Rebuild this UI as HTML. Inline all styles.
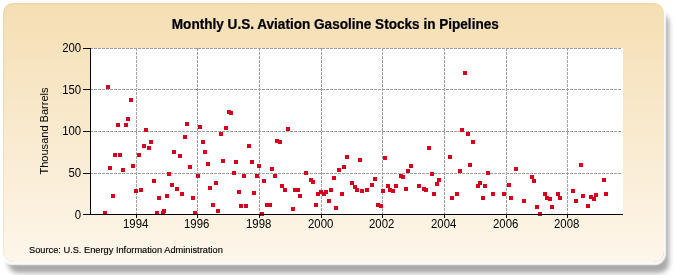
<!DOCTYPE html>
<html><head><meta charset="utf-8">
<style>
html,body{margin:0;padding:0;background:#fff;}
body{width:675px;height:275px;overflow:hidden;position:relative;}
.shadow{position:absolute;left:8px;top:13px;width:661px;height:260px;border-radius:10px;background:rgba(0,0,0,0.34);filter:blur(2.8px);}
.halo{position:absolute;left:3px;top:3px;width:661px;height:259px;border-radius:10px;box-shadow:0.5px 1px 1.5px 1.5px rgba(255,255,255,0.95);}
.panel{position:absolute;left:3px;top:3px;width:661px;height:259px;border-radius:10px;
background:linear-gradient(to bottom,#f5deb3 0%,#fdf6ea 100%);box-shadow:inset 1px 1px 1.5px rgba(110,120,60,0.09);filter:blur(0.4px);}
svg{position:absolute;left:0;top:0;will-change:transform;}
text{font-family:"Liberation Sans",sans-serif;fill:#000;}
</style></head><body>
<div class="shadow"></div><div class="halo"></div><div class="panel"></div>
<svg width="675" height="275" viewBox="0 0 675 275">
<rect x="91" y="48" width="532" height="166" fill="#ffffff"/>
<g stroke="#a0a0a0" stroke-width="1" stroke-dasharray="3,1" shape-rendering="crispEdges">
<line x1="90" y1="48.5" x2="622" y2="48.5"/>
<line x1="90" y1="89.5" x2="622" y2="89.5"/>
<line x1="90" y1="131.5" x2="622" y2="131.5"/>
<line x1="90" y1="173.5" x2="622" y2="173.5"/>
<line x1="136.5" y1="48" x2="136.5" y2="214"/>
<line x1="197.5" y1="48" x2="197.5" y2="214"/>
<line x1="259.5" y1="48" x2="259.5" y2="214"/>
<line x1="321.5" y1="48" x2="321.5" y2="214"/>
<line x1="382.5" y1="48" x2="382.5" y2="214"/>
<line x1="444.5" y1="48" x2="444.5" y2="214"/>
<line x1="506.5" y1="48" x2="506.5" y2="214"/>
<line x1="567.5" y1="48" x2="567.5" y2="214"/>
</g>
<g fill="#d4021f" shape-rendering="crispEdges">
<rect x="103" y="211" width="4" height="4"/>
<rect x="106" y="85" width="4" height="4"/>
<rect x="108" y="166" width="4" height="4"/>
<rect x="111" y="194" width="4" height="4"/>
<rect x="113" y="153" width="4" height="4"/>
<rect x="116" y="123" width="4" height="4"/>
<rect x="118" y="153" width="4" height="4"/>
<rect x="121" y="168" width="4" height="4"/>
<rect x="124" y="123" width="4" height="4"/>
<rect x="126" y="117" width="4" height="4"/>
<rect x="129" y="98" width="4" height="4"/>
<rect x="131" y="164" width="4" height="4"/>
<rect x="134" y="189" width="4" height="4"/>
<rect x="137" y="153" width="4" height="4"/>
<rect x="139" y="188" width="4" height="4"/>
<rect x="142" y="144" width="4" height="4"/>
<rect x="144" y="128" width="4" height="4"/>
<rect x="147" y="146" width="4" height="4"/>
<rect x="149" y="140" width="4" height="4"/>
<rect x="152" y="179" width="4" height="4"/>
<rect x="155" y="211" width="4" height="4"/>
<rect x="157" y="196" width="4" height="4"/>
<rect x="161" y="211" width="4" height="4"/>
<rect x="162" y="209" width="4" height="4"/>
<rect x="165" y="194" width="4" height="4"/>
<rect x="167" y="172" width="4" height="4"/>
<rect x="170" y="183" width="4" height="4"/>
<rect x="172" y="150" width="4" height="4"/>
<rect x="175" y="187" width="4" height="4"/>
<rect x="178" y="154" width="4" height="4"/>
<rect x="180" y="192" width="4" height="4"/>
<rect x="183" y="135" width="4" height="4"/>
<rect x="185" y="122" width="4" height="4"/>
<rect x="188" y="165" width="4" height="4"/>
<rect x="191" y="196" width="4" height="4"/>
<rect x="193" y="211" width="4" height="4"/>
<rect x="196" y="174" width="4" height="4"/>
<rect x="198" y="125" width="4" height="4"/>
<rect x="201" y="140" width="4" height="4"/>
<rect x="203" y="150" width="4" height="4"/>
<rect x="206" y="162" width="4" height="4"/>
<rect x="208" y="186" width="4" height="4"/>
<rect x="211" y="203" width="4" height="4"/>
<rect x="214" y="181" width="4" height="4"/>
<rect x="216" y="209" width="4" height="4"/>
<rect x="219" y="132" width="4" height="4"/>
<rect x="221" y="159" width="4" height="4"/>
<rect x="224" y="126" width="4" height="4"/>
<rect x="227" y="110" width="4" height="4"/>
<rect x="229" y="111" width="4" height="4"/>
<rect x="232" y="171" width="4" height="4"/>
<rect x="234" y="160" width="4" height="4"/>
<rect x="237" y="190" width="4" height="4"/>
<rect x="239" y="204" width="4" height="4"/>
<rect x="242" y="174" width="4" height="4"/>
<rect x="244" y="204" width="4" height="4"/>
<rect x="247" y="144" width="4" height="4"/>
<rect x="250" y="160" width="4" height="4"/>
<rect x="252" y="191" width="4" height="4"/>
<rect x="255" y="174" width="4" height="4"/>
<rect x="257" y="164" width="4" height="4"/>
<rect x="260" y="212" width="4" height="4"/>
<rect x="262" y="179" width="4" height="4"/>
<rect x="265" y="203" width="4" height="4"/>
<rect x="268" y="203" width="4" height="4"/>
<rect x="270" y="167" width="4" height="4"/>
<rect x="273" y="174" width="4" height="4"/>
<rect x="275" y="139" width="4" height="4"/>
<rect x="278" y="140" width="4" height="4"/>
<rect x="280" y="184" width="4" height="4"/>
<rect x="283" y="188" width="4" height="4"/>
<rect x="286" y="127" width="4" height="4"/>
<rect x="291" y="207" width="4" height="4"/>
<rect x="293" y="188" width="4" height="4"/>
<rect x="296" y="188" width="4" height="4"/>
<rect x="298" y="194" width="4" height="4"/>
<rect x="304" y="171" width="4" height="4"/>
<rect x="309" y="178" width="4" height="4"/>
<rect x="311" y="180" width="4" height="4"/>
<rect x="314" y="203" width="4" height="4"/>
<rect x="316" y="192" width="4" height="4"/>
<rect x="319" y="190" width="4" height="4"/>
<rect x="322" y="192" width="4" height="4"/>
<rect x="324" y="190" width="4" height="4"/>
<rect x="327" y="199" width="4" height="4"/>
<rect x="329" y="188" width="4" height="4"/>
<rect x="332" y="176" width="4" height="4"/>
<rect x="334" y="206" width="4" height="4"/>
<rect x="337" y="168" width="4" height="4"/>
<rect x="340" y="192" width="4" height="4"/>
<rect x="342" y="165" width="4" height="4"/>
<rect x="345" y="155" width="4" height="4"/>
<rect x="350" y="181" width="4" height="4"/>
<rect x="353" y="185" width="4" height="4"/>
<rect x="355" y="188" width="4" height="4"/>
<rect x="358" y="158" width="4" height="4"/>
<rect x="360" y="189" width="4" height="4"/>
<rect x="365" y="188" width="4" height="4"/>
<rect x="370" y="183" width="4" height="4"/>
<rect x="373" y="177" width="4" height="4"/>
<rect x="376" y="203" width="4" height="4"/>
<rect x="379" y="204" width="4" height="4"/>
<rect x="381" y="189" width="4" height="4"/>
<rect x="383" y="156" width="4" height="4"/>
<rect x="386" y="184" width="4" height="4"/>
<rect x="388" y="188" width="4" height="4"/>
<rect x="391" y="189" width="4" height="4"/>
<rect x="394" y="184" width="4" height="4"/>
<rect x="399" y="174" width="4" height="4"/>
<rect x="401" y="175" width="4" height="4"/>
<rect x="404" y="187" width="4" height="4"/>
<rect x="406" y="169" width="4" height="4"/>
<rect x="409" y="164" width="4" height="4"/>
<rect x="417" y="184" width="4" height="4"/>
<rect x="422" y="187" width="4" height="4"/>
<rect x="424" y="188" width="4" height="4"/>
<rect x="427" y="146" width="4" height="4"/>
<rect x="430" y="172" width="4" height="4"/>
<rect x="432" y="192" width="4" height="4"/>
<rect x="435" y="182" width="4" height="4"/>
<rect x="437" y="178" width="4" height="4"/>
<rect x="448" y="155" width="4" height="4"/>
<rect x="450" y="196" width="4" height="4"/>
<rect x="455" y="192" width="4" height="4"/>
<rect x="458" y="169" width="4" height="4"/>
<rect x="460" y="128" width="4" height="4"/>
<rect x="463" y="71" width="4" height="4"/>
<rect x="466" y="132" width="4" height="4"/>
<rect x="468" y="163" width="4" height="4"/>
<rect x="471" y="140" width="4" height="4"/>
<rect x="476" y="184" width="4" height="4"/>
<rect x="478" y="181" width="4" height="4"/>
<rect x="481" y="196" width="4" height="4"/>
<rect x="483" y="184" width="4" height="4"/>
<rect x="486" y="171" width="4" height="4"/>
<rect x="491" y="192" width="4" height="4"/>
<rect x="502" y="192" width="4" height="4"/>
<rect x="507" y="183" width="4" height="4"/>
<rect x="509" y="196" width="4" height="4"/>
<rect x="514" y="167" width="4" height="4"/>
<rect x="522" y="199" width="4" height="4"/>
<rect x="530" y="175" width="4" height="4"/>
<rect x="532" y="179" width="4" height="4"/>
<rect x="535" y="205" width="4" height="4"/>
<rect x="538" y="212" width="4" height="4"/>
<rect x="543" y="192" width="4" height="4"/>
<rect x="545" y="196" width="4" height="4"/>
<rect x="548" y="197" width="4" height="4"/>
<rect x="550" y="205" width="4" height="4"/>
<rect x="556" y="192" width="4" height="4"/>
<rect x="558" y="196" width="4" height="4"/>
<rect x="571" y="189" width="4" height="4"/>
<rect x="574" y="199" width="4" height="4"/>
<rect x="579" y="163" width="4" height="4"/>
<rect x="581" y="194" width="4" height="4"/>
<rect x="586" y="204" width="4" height="4"/>
<rect x="589" y="195" width="4" height="4"/>
<rect x="592" y="197" width="4" height="4"/>
<rect x="594" y="193" width="4" height="4"/>
<rect x="602" y="178" width="4" height="4"/>
<rect x="604" y="192" width="4" height="4"/>
</g>
<g stroke="#000" stroke-width="1" shape-rendering="crispEdges">
<line x1="90.5" y1="48" x2="90.5" y2="215"/>
<line x1="90" y1="214.5" x2="623" y2="214.5"/>
<line x1="83" y1="48.5" x2="90" y2="48.5"/>
<line x1="83" y1="89.5" x2="90" y2="89.5"/>
<line x1="83" y1="131.5" x2="90" y2="131.5"/>
<line x1="83" y1="173.5" x2="90" y2="173.5"/>
<line x1="83" y1="214.5" x2="90" y2="214.5"/>
<line x1="136.5" y1="214" x2="136.5" y2="218"/>
<line x1="197.5" y1="214" x2="197.5" y2="218"/>
<line x1="259.5" y1="214" x2="259.5" y2="218"/>
<line x1="321.5" y1="214" x2="321.5" y2="218"/>
<line x1="382.5" y1="214" x2="382.5" y2="218"/>
<line x1="444.5" y1="214" x2="444.5" y2="218"/>
<line x1="506.5" y1="214" x2="506.5" y2="218"/>
<line x1="567.5" y1="214" x2="567.5" y2="218"/>
</g>
<g font-size="12">
<text transform="translate(81.2,52) scale(0.95,1)" text-anchor="end">200</text>
<text transform="translate(81.2,94) scale(0.95,1)" text-anchor="end">150</text>
<text transform="translate(81.2,135) scale(0.95,1)" text-anchor="end">100</text>
<text transform="translate(81.2,177) scale(0.95,1)" text-anchor="end">50</text>
<text transform="translate(81.2,219) scale(0.95,1)" text-anchor="end">0</text>
<text transform="translate(135.7,228) scale(0.95,1)" text-anchor="middle">1994</text>
<text transform="translate(196.7,228) scale(0.95,1)" text-anchor="middle">1996</text>
<text transform="translate(258.7,228) scale(0.95,1)" text-anchor="middle">1998</text>
<text transform="translate(320.7,228) scale(0.95,1)" text-anchor="middle">2000</text>
<text transform="translate(381.7,228) scale(0.95,1)" text-anchor="middle">2002</text>
<text transform="translate(443.7,228) scale(0.95,1)" text-anchor="middle">2004</text>
<text transform="translate(505.7,228) scale(0.95,1)" text-anchor="middle">2006</text>
<text transform="translate(566.7,228) scale(0.95,1)" text-anchor="middle">2008</text>
</g>
<text transform="translate(335.3,28.6) scale(0.97,1)" text-anchor="middle" font-size="14" font-weight="bold" fill="#000" stroke="#000" stroke-width="0.25">Monthly U.S. Aviation Gasoline Stocks in Pipelines</text>
<text transform="translate(47.6,131) rotate(-90) scale(0.96,1)" text-anchor="middle" font-size="11.5">Thousand Barrels</text>
<text x="29" y="253" font-size="9.26" fill="#000" stroke="#000" stroke-width="0.15">Source: U.S. Energy Information Administration</text>
</svg>
</body></html>
